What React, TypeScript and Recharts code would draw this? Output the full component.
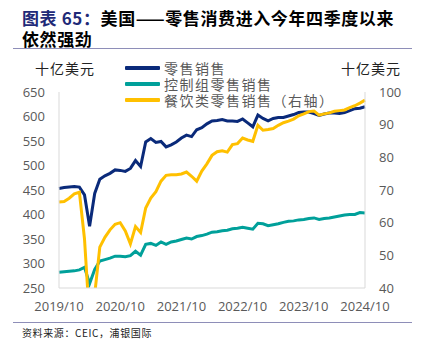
import { LineChart, Line, XAxis, YAxis } from 'recharts';

const months = [
  '2019/10', '2019/11', '2019/12',
  '2020/01', '2020/02', '2020/03', '2020/04', '2020/05', '2020/06',
  '2020/07', '2020/08', '2020/09', '2020/10', '2020/11', '2020/12',
  '2021/01', '2021/02', '2021/03', '2021/04', '2021/05', '2021/06',
  '2021/07', '2021/08', '2021/09', '2021/10', '2021/11', '2021/12',
  '2022/01', '2022/02', '2022/03', '2022/04', '2022/05', '2022/06',
  '2022/07', '2022/08', '2022/09', '2022/10', '2022/11', '2022/12',
  '2023/01', '2023/02', '2023/03', '2023/04', '2023/05', '2023/06',
  '2023/07', '2023/08', '2023/09', '2023/10', '2023/11', '2023/12',
  '2024/01', '2024/02', '2024/03', '2024/04', '2024/05', '2024/06',
  '2024/07', '2024/08', '2024/09', '2024/10',
];

// 零售销售 (left axis, 十亿美元)
const retailSales = [
  453, 455, 456, 457, 456, 440, 376, 443, 472, 479,
  484, 491, 490, 488, 494, 510, 498, 548, 555, 547,
  549, 538, 542, 548, 556, 562, 559, 573, 577, 585,
  591, 592, 594, 591, 591, 590, 595, 587, 579, 603,
  596, 591, 596, 598, 598, 601, 604, 608, 609, 609,
  606, 602, 605, 607, 607, 606, 608, 612, 616, 617, 620,
];

// 控制组零售销售 (left axis)
const controlGroup = [
  282, 283, 284, 285, 287, 292, 259, 288, 305, 308,
  311, 315, 315, 314, 316, 325, 317, 339, 341, 337,
  344, 339, 344, 346, 349, 352, 350, 355, 357, 360,
  364, 365, 367, 368, 371, 372, 374, 372, 370, 382,
  381, 377, 379, 381, 384, 386, 387, 389, 390, 392,
  393, 390, 392, 393, 395, 397, 399, 400, 400, 404, 403,
];

// 餐饮类零售销售 (right axis)
const foodServices = [
  66.3, 66.5, 67.5, 68.8, 69.3, 55, 30, 38, 52.5, 55.5,
  57.8, 59.5, 60, 57.5, 53.5, 58.8, 57, 64.5, 67.5, 69.5,
  72.7, 74.5, 74.7, 74.7, 74.9, 75.5, 74.2, 72.7, 75.8, 78,
  80.6, 81.7, 82, 81.6, 83.9, 84.2, 85.9, 85.3, 84.9, 89.8,
  88.3, 88.5, 88.8, 89.8, 90.6, 91.1, 91.7, 92.7, 93.3, 94,
  94.2, 92.9, 93.3, 93.6, 94.1, 94.3, 94.5, 95.2, 95.8, 96.6, 97.5,
];

const xTicks = ['2019/10', '2020/10', '2021/10', '2022/10', '2023/10', '2024/10'];
const leftTicks = [250, 300, 350, 400, 450, 500, 550, 600, 650];
const rightTicks = [40, 50, 60, 70, 80, 90, 100];

const legendItems = [
  { label: '零售销售', color: '#0A2A7A' },
  { label: '控制组零售销售', color: '#00A09A' },
  { label: '餐饮类零售销售（右轴）', color: '#FFC000' },
];

const data = months.map((month, i) => ({
  month,
  retail: retailSales[i],
  control: controlGroup[i],
  food: foodServices[i],
}));

const cjk = '"Noto Sans CJK SC", "Noto Sans", sans-serif';
const tickStyle = { fill: '#595959', fontSize: 13, fontFamily: '"Open Sans", sans-serif' };
const ruleColor = '#8E8EB8';

export default function App() {
  return (
    <div
      style={{
        position: 'absolute',
        left: 0,
        top: 0,
        width: 421,
        height: 349,
        background: '#fff',
        overflow: 'hidden',
        fontFamily: cjk,
      }}
    >
      <div style={{ position: 'absolute', left: 22, top: 8, fontSize: 17, lineHeight: '20px', fontWeight: 700, color: '#000', letterSpacing: 0.6, whiteSpace: 'nowrap' }}>
        <span style={{ color: '#1F2A78' }}>图表 65：</span>美国——零售消费进入今年四季度以来
      </div>
      <div style={{ position: 'absolute', left: 22, top: 29, fontSize: 17, lineHeight: '20px', fontWeight: 700, color: '#000', letterSpacing: 0.6 }}>
        依然强劲
      </div>
      <div style={{ position: 'absolute', left: 13, top: 48, width: 399, height: 1, background: ruleColor }} />

      <LineChart
        width={421}
        height={349}
        data={data}
        margin={{ top: 92, right: 0, bottom: 31, left: 0 }}
        style={{ position: 'absolute', left: 0, top: 0 }}
      >
        <XAxis
          dataKey="month"
          ticks={xTicks}
          interval={0}
          tickLine={false}
          axisLine={{ stroke: '#D9D9D9' }}
          tick={tickStyle}
          tickMargin={8}
          height={30}
        />
        <YAxis
          yAxisId="left"
          domain={[250, 650]}
          ticks={leftTicks}
          interval={0}
          tickLine={false}
          axisLine={{ stroke: '#D9D9D9' }}
          tick={tickStyle}
          tickMargin={8}
          width={59}
          allowDataOverflow
        />
        <YAxis
          yAxisId="right"
          orientation="right"
          domain={[40, 100]}
          ticks={rightTicks}
          interval={0}
          tickLine={false}
          axisLine={{ stroke: '#D9D9D9' }}
          tick={tickStyle}
          tickMargin={8}
          width={56}
          allowDataOverflow
        />
        <Line yAxisId="left" type="linear" dataKey="retail" stroke="#0A2A7A" strokeWidth={3} dot={false} isAnimationActive={false} />
        <Line yAxisId="left" type="linear" dataKey="control" stroke="#00A09A" strokeWidth={3} dot={false} isAnimationActive={false} />
        <Line yAxisId="right" type="linear" dataKey="food" stroke="#FFC000" strokeWidth={3} dot={false} isAnimationActive={false} />
      </LineChart>

      <div style={{ position: 'absolute', left: 35, top: 59, fontSize: 14, lineHeight: '18px', color: '#222', letterSpacing: 1 }}>十亿美元</div>
      <div style={{ position: 'absolute', left: 341, top: 59, fontSize: 14, lineHeight: '18px', color: '#222', letterSpacing: 1 }}>十亿美元</div>

      {legendItems.map((item, i) => (
        <div key={item.label} style={{ position: 'absolute', left: 125, top: 60 + i * 16, height: 16, display: 'flex', alignItems: 'center' }}>
          <div style={{ width: 35, height: 4, background: item.color, borderRadius: 1 }} />
          <span style={{ marginLeft: 4, fontSize: 14, color: '#595959', letterSpacing: 1.5, lineHeight: '16px' }}>{item.label}</span>
        </div>
      ))}

      <div style={{ position: 'absolute', left: 13, top: 322, width: 399, height: 1, background: ruleColor }} />
      <div style={{ position: 'absolute', left: 22, top: 326, fontSize: 10, lineHeight: '14px', color: '#222', letterSpacing: 0.6 }}>
        资料来源：CEIC，浦银国际
      </div>
    </div>
  );
}
